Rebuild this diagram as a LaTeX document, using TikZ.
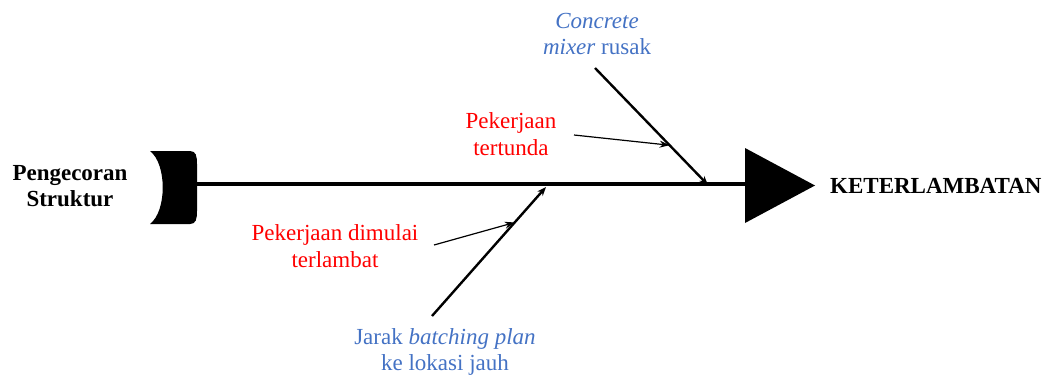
\documentclass[tikz,border=0pt]{standalone}
\usepackage{fontspec}
\setmainfont{Liberation Serif}
\usetikzlibrary{arrows.meta,calc}
\definecolor{causeblue}{HTML}{4472C4}
\definecolor{causered}{HTML}{FF0000}
\tikzset{
  lbl/.style={inner sep=0pt, align=center, font=\fontsize{23}{26.5}\selectfont},
  bluelbl/.style={lbl, text=causeblue},
  redlbl/.style={lbl, text=causered},
  boldlbl/.style={lbl, font=\fontsize{23}{26.5}\selectfont\bfseries},
  spine/.style={line width=4pt},
  bone/.style={line width=2.4pt, -{Stealth[length=9pt,width=7pt]}},
  subbone/.style={line width=1.2pt, -{Stealth[length=10pt,width=7pt]}},
}
\begin{document}
\begin{tikzpicture}[x=1pt,y=1pt]
\useasboundingbox (0,0) rectangle (1051,376);
% tail and head shapes
\fill (150,225) -- (190,225) .. controls (196,225) and (197,220) .. (197,212)
  -- (197,165) .. controls (197,157) and (196,152) .. (190,152)
  -- (150,152) .. controls (167,165) and (167,212) .. (150,225) -- cycle;
\fill (745,228) -- (815,190.5) -- (745,153) -- cycle;
\coordinate (tail) at (196,192);
\coordinate (head) at (746,192);
\draw[spine] (tail) -- (head);
% labels
\node[boldlbl] (src) at (70,190) {Pengecoran\\Struktur};
\node[boldlbl, anchor=west] (effect) at (830,190) {KETERLAMBATAN};
\node[bluelbl] (mixer) at (597,342) {\textit{Concrete}\\\textit{mixer} rusak};
\node[redlbl] (tunda) at (511,242) {Pekerjaan\\tertunda};
\node[redlbl] (mulai) at (335,130) {Pekerjaan dimulai\\terlambat};
\node[bluelbl] (jarak) at (445,24) {Jarak \textit{batching plan}\\ke lokasi jauh};
% bones
\coordinate (b1s) at (595,308);
\coordinate (b1e) at (708,191);
\coordinate (b2s) at (432,60);
\coordinate (b2e) at (546,189);
\draw[bone] (b1s) -- (b1e);
\draw[bone] (b2s) -- (b2e);
\coordinate (t1) at ($(b1s)!0.66!(b1e)$);
\coordinate (t2) at ($(b2s)!0.725!(b2e)$);
\coordinate (s1) at (574,241);
\coordinate (s2) at (434,131);
\draw[subbone] (s1) -- (t1);
\draw[subbone] (s2) -- (t2);
\end{tikzpicture}
\end{document}
